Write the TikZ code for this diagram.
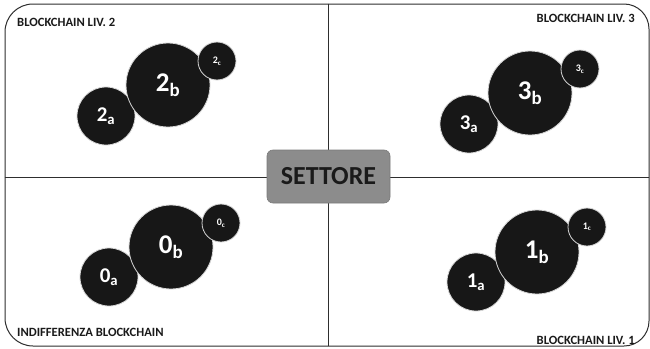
\documentclass[tikz,border=0pt]{standalone}
\usepackage{fontspec}
\setmainfont{Carlito}
\definecolor{qdLine}{HTML}{2E2E2E}
\definecolor{qdDisc}{HTML}{171717}
\definecolor{qdRim}{HTML}{D6D6D6}
\definecolor{qdBox}{HTML}{8C8C8C}
\definecolor{qdBoxLine}{HTML}{7A7A7A}
\definecolor{qdText}{HTML}{1A1A1A}
\usepackage{tikz}

\begin{document}
\begin{tikzpicture}[x=1pt, y=-1pt,
  frame/.style={draw=qdLine, line width=1pt},
  disc/.style={circle, fill=qdDisc, draw=qdRim, line width=0.8pt,
    inner sep=0pt, text=white, font=\bfseries},
  big/.style={disc, minimum size=84pt, font=\bfseries\fontsize{27}{27}\selectfont},
  mid/.style={disc, minimum size=58pt, font=\bfseries\fontsize{21}{21}\selectfont},
  small/.style={disc, minimum size=38pt, font=\bfseries\fontsize{10}{10}\selectfont},
  tag/.style={inner sep=0pt, text=qdText, font=\bfseries\fontsize{12.6}{12.6}\selectfont},
  sectbox/.style={rounded corners=6pt, fill=qdBox, draw=qdBoxLine, line width=0.6pt,
    minimum width=123pt, minimum height=53pt, text=qdText,
    font=\bfseries\fontsize{26}{26}\selectfont}
]
  \useasboundingbox[fill=white] (0,0) rectangle (650,348);

  % quadrant frame, one rounded outer corner each
  \draw[frame, rounded corners=28pt] (328,4) -- (5,4) -- (5,177);
  \draw[frame, rounded corners=25pt] (328,4) -- (649,4) -- (649,177);
  \draw[frame, rounded corners=28pt] (328,346) -- (5,346) -- (5,177);
  \draw[frame, rounded corners=25pt] (328,346) -- (649,346) -- (649,177);
  \draw[frame] (328,4) -- (328,346);
  \draw[frame] (5,177) -- (649,177);

  \node[sectbox] (settore) at (328.5,176.5) {SETTORE};

  % corner labels
  \node[tag, anchor=west] (liv2) at (17,22) {BLOCKCHAIN LIV. 2};
  \node[tag, anchor=east] (liv3) at (635,18) {BLOCKCHAIN LIV. 3};
  \node[tag, anchor=west] (liv0) at (17,332) {INDIFFERENZA BLOCKCHAIN};
  \node[tag, anchor=east] (liv1) at (635,340) {BLOCKCHAIN LIV. 1};

  % level 2
  \node[mid] (l2a) at (106,116) {2\textsubscript{a}};
  \node[big] (l2b) at (168,85) {2\textsubscript{b}};
  \node[small] (l2c) at (217,61) {2\textsubscript{c}};

  % level 3
  \node[mid] (l3a) at (469,124) {3\textsubscript{a}};
  \node[big] (l3b) at (530,93) {3\textsubscript{b}};
  \node[small] (l3c) at (580,69) {3\textsubscript{c}};

  % indifference
  \node[mid] (l0a) at (109,277) {0\textsubscript{a}};
  \node[big] (l0b) at (171,247) {0\textsubscript{b}};
  \node[small] (l0c) at (221,223) {0\textsubscript{c}};

  % level 1
  \node[mid] (l1a) at (476,282) {1\textsubscript{a}};
  \node[big] (l1b) at (537,252) {1\textsubscript{b}};
  \node[small] (l1c) at (587,227) {1\textsubscript{c}};
\end{tikzpicture}
\end{document}
